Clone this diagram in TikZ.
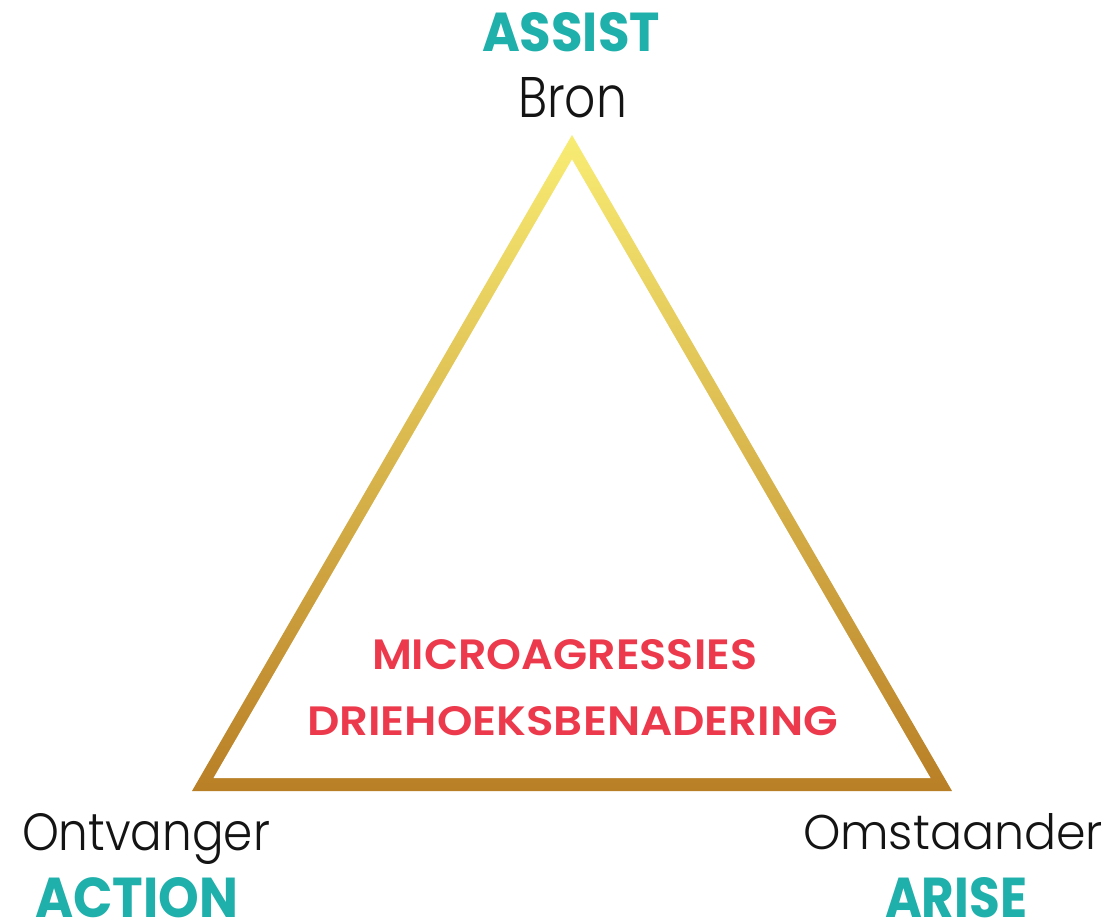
\documentclass[tikz,border=0pt]{standalone}
\usepackage{fontspec}
\usepackage{graphicx}
\setmainfont{Poppins}
\newfontfamily\boldfont{Poppins}[UprightFont={* Bold}]
\newfontfamily\semifont{Poppins}[UprightFont={* SemiBold}]
\newfontfamily\lightfont{Poppins}[UprightFont={* Light}]
\definecolor{teal1}{HTML}{1FB0AB}
\definecolor{red1}{HTML}{EC3A4C}
\definecolor{ink}{HTML}{141414}
\definecolor{goldtop}{HTML}{F8EC73}
\definecolor{goldmid}{HTML}{E0BE48}
\definecolor{goldbot}{HTML}{B97F26}
\tikzset{
  lbl/.style={inner sep=0pt, outer sep=0pt, anchor=base west},
}
\newcommand{\fitbox}[3]{\resizebox{#1pt}{#2pt}{#3}}
\begin{document}
\begin{tikzpicture}[x=1pt,y=1pt]
\fill[white] (0,0) rectangle (1107,921);
\useasboundingbox (0,0) rectangle (1107,921);
% triangle frame
\coordinate (o1) at (192,130);
\coordinate (o2) at (952,130);
\coordinate (o3) at (572,786);
\coordinate (i1) at (213.5,143);
\coordinate (i2) at (930.5,143);
\coordinate (i3) at (572,761.5);
\shade[top color=goldtop, middle color=goldmid, bottom color=goldbot] (o1) -- (o2) -- (o3) -- cycle;
\fill[white] (i1) -- (i2) -- (i3) -- cycle;
% labels
\node[lbl, text=teal1] (assist) at (482,869) {\fitbox{178}{39}{\boldfont ASSIST}};
\node[lbl, text=ink] (bron) at (518,803) {\fitbox{109}{40}{\lightfont Bron}};
\node[lbl, text=red1] (micro) at (372,251) {\fitbox{385}{30}{\semifont MICROAGRESSIES}};
\node[lbl, text=red1] (drie) at (307,186) {\fitbox{531}{29}{\semifont DRIEHOEKSBENADERING}};
\node[lbl, text=ink] (ontv) at (22,71) {\fitbox{248}{37}{\lightfont Ontvanger}};
\node[lbl, text=teal1] (action) at (35,4) {\fitbox{203}{40}{\boldfont ACTION}};
\node[lbl, text=ink] (omst) at (803,72) {\fitbox{300}{36}{\lightfont Omstaander}};
\node[lbl, text=teal1] (arise) at (885,4) {\fitbox{142}{40}{\boldfont ARISE}};
\end{tikzpicture}
\end{document}
